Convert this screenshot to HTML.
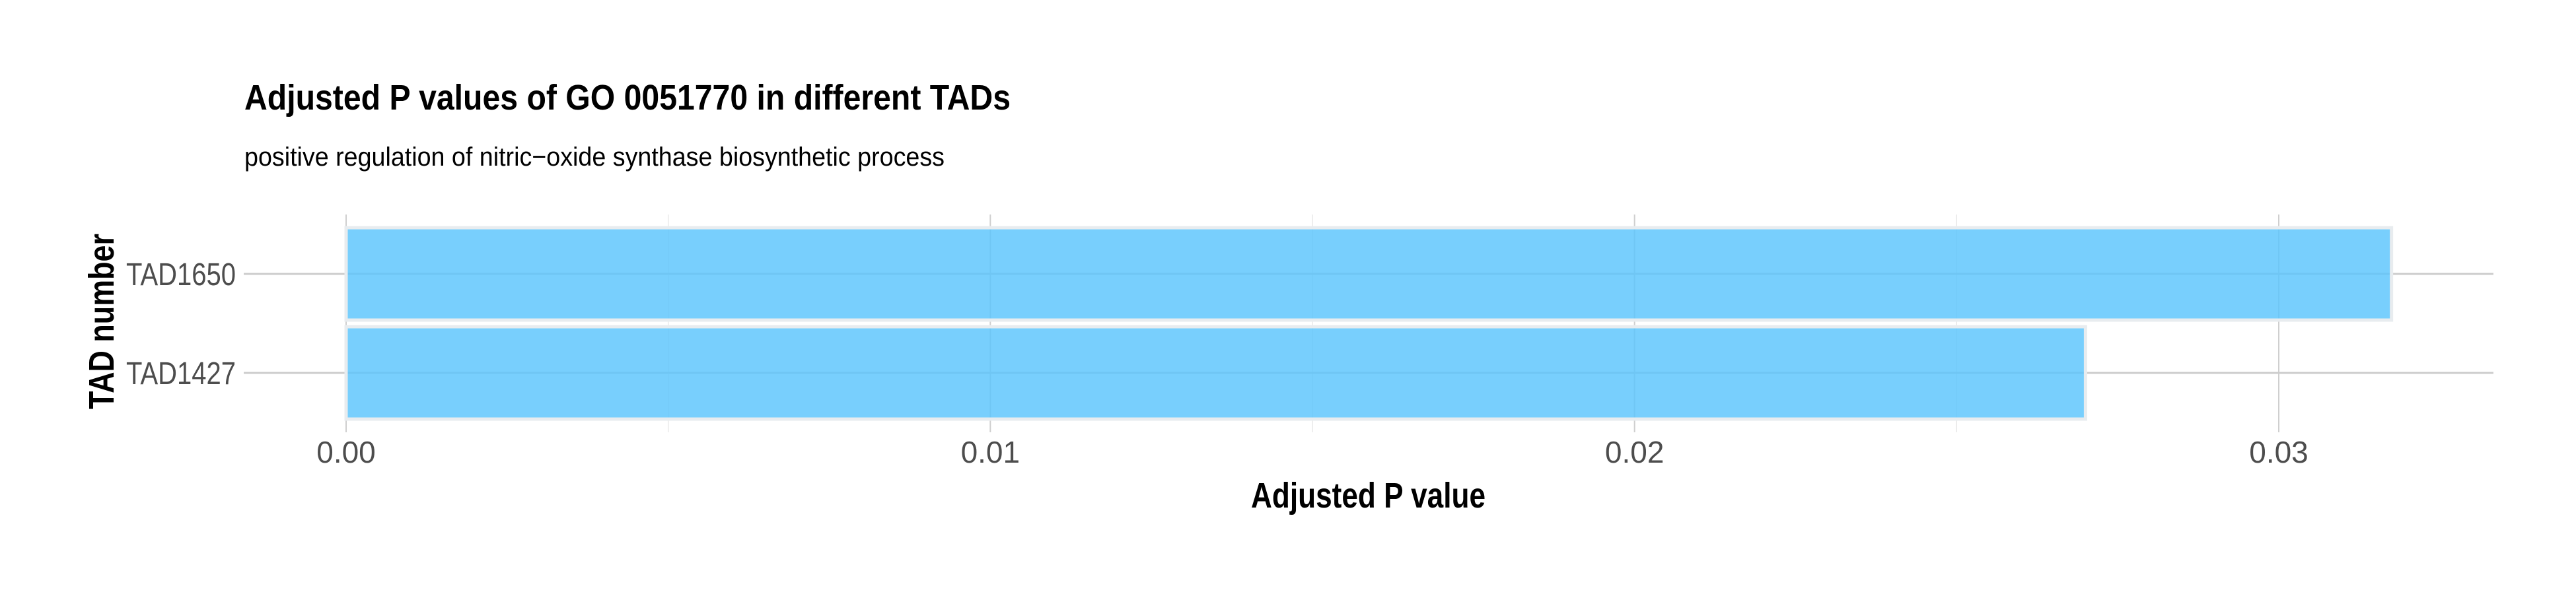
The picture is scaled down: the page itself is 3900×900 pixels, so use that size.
<!DOCTYPE html>
<html><head><meta charset="utf-8"><style>html,body{margin:0;padding:0;background:#fff}svg{display:block}</style></head>
<body>
<svg id="chart" width="3900" height="900" xmlns="http://www.w3.org/2000/svg" font-family="Liberation Sans, Arial, sans-serif">
<rect width="3900" height="900" fill="#fff"/>
<g id="grid"></g>
<g id="bars"></g>
<g id="labels"></g>
<text x="370" y="166" font-size="54" font-weight="bold" textLength="1160" lengthAdjust="spacingAndGlyphs">Adjusted P values of GO 0051770 in different TADs</text>
<text x="370" y="251" font-size="40" textLength="1060" lengthAdjust="spacingAndGlyphs">positive regulation of nitric−oxide synthase biosynthetic process</text>
<text x="1894" y="769" font-size="54" font-weight="bold" textLength="355" lengthAdjust="spacingAndGlyphs">Adjusted P value</text>
<text transform="translate(172,620) rotate(-90)" x="0" y="0" font-size="54" font-weight="bold" textLength="266" lengthAdjust="spacingAndGlyphs">TAD number</text>
</svg>
<script>
const categories = ["TAD1427", "TAD1650"];
const values = [0.0270, 0.03175];
const xTicks = [0, 0.01, 0.02, 0.03];
const xTickLabels = ["0.00", "0.01", "0.02", "0.03"];
const xMinor = [0.005, 0.015, 0.025];

const NS = "http://www.w3.org/2000/svg";
const x0 = 524, pxPerUnit = (3450 - 524) / 0.03;
const panelL = 369, panelR = 3775, panelT = 325, panelB = 655;
const yCenters = {0: 565, 1: 415}; // band centers for index positions
const bandStep = 150, barH = 140;
function xs(v) { return x0 + v * pxPerUnit; }
function ys(i) { return 565 - i * bandStep; }
function mk(tag, attrs) { const e = document.createElementNS(NS, tag); for (const k in attrs) e.setAttribute(k, attrs[k]); return e; }
const grid = document.getElementById('grid'), bars = document.getElementById('bars'), labels = document.getElementById('labels');

xMinor.forEach(v => {
  const l = mk('line', {x1: xs(v), x2: xs(v), y1: panelT, y2: panelB, stroke: '#e3e3e3', 'stroke-width': 1.2});
  
  
  grid.appendChild(l);
});
xTicks.forEach((v, i) => {
  const l = mk('line', {x1: xs(v), x2: xs(v), y1: panelT, y2: panelB, stroke: '#cfcfcf', 'stroke-width': 2});
  
  
  grid.appendChild(l);
  const t = mk('text', {x: xs(v), y: 701, 'font-size': 46, fill: '#4d4d4d', 'text-anchor': 'middle'});
  t.textContent = xTickLabels[i];
  
  
  labels.appendChild(t);
});
categories.forEach((c, i) => {
  const y = ys(i);
  const l = mk('line', {x1: panelL, x2: panelR, y1: y, y2: y, stroke: '#cccccc', 'stroke-width': 3});
  
  
  grid.appendChild(l);
  const t = mk('text', {x: 357, y: y + 17, 'font-size': 48, fill: '#4d4d4d', 'text-anchor': 'end', textLength: 166, lengthAdjust: 'spacingAndGlyphs'});
  t.textContent = c;
  
  
  labels.appendChild(t);
  const r = mk('rect', {x: xs(0), y: y - barH / 2, width: xs(values[i]) - xs(0), height: barH, fill: 'rgba(90,197,253,0.82)', stroke: '#e8ecef', 'stroke-width': 5});
  
  
  bars.appendChild(r);
});
</script>
</body></html>
